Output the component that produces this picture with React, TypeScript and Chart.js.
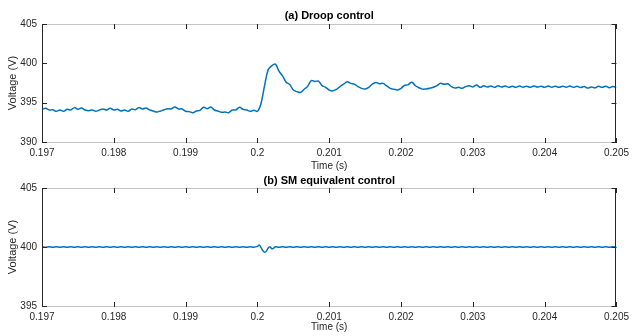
import React, { useEffect, useRef } from "react";
import { Chart, registerables } from "chart.js";

Chart.register(...registerables);

// ---- data ----
const T0 = 0.197;
const DT = 0.00005;

// (a) Droop control: voltage sampled every 50 us from 0.197 s to 0.205 s
const droopV = [
  394.15, 394.28, 394.07, 394.1, 393.9, 394.07, 393.9, 394.15, 394.07, 394.37,
  394.15, 394.32, 394.07, 393.98, 394.07, 393.9, 394.07, 394.2, 394.07, 394.28,
  394.07, 394.15, 393.94, 394.07, 393.9, 394.2, 394.1, 394.37, 394.2, 394.32,
  394.07, 393.94, 393.81, 393.94, 394.1, 394.24, 394.2, 394.45, 394.2, 394.2,
  393.9, 393.86, 393.73, 393.94, 394.03, 394.41, 394.24, 394.45, 394.07, 393.94,
  393.77, 393.81, 393.73, 394.07, 394.07, 394.41, 394.15, 394.07, 393.9, 394.03,
  393.9, 394.9, 397.2, 399.2, 399.7, 399.9, 399.0, 398.4, 397.6, 397.3,
  396.6, 396.4, 396.3, 396.7, 397.1, 397.8, 397.7, 397.75, 397.16, 396.95,
  396.6, 396.5, 396.7, 397.05, 397.35, 397.65, 397.45, 397.35, 397.04, 396.82,
  396.75, 396.95, 397.35, 397.55, 397.4, 397.45, 397.12, 396.82, 396.7, 396.62,
  396.82, 397.21, 397.3, 397.6, 397.15, 396.9, 396.72, 396.74, 396.82, 396.95,
  397.16, 397.46, 397.33, 397.4, 397.05, 396.85, 396.95, 396.82, 397.04, 397.16,
  397.0, 397.25, 396.95, 397.15, 396.98, 397.12, 396.95, 397.15, 396.98, 397.12,
  396.95, 397.1, 396.95, 397.12, 396.96, 397.1, 396.95, 397.12, 396.98, 397.1,
  396.95, 397.12, 396.97, 397.1, 396.95, 397.1, 396.96, 397.12, 396.95, 397.08,
  396.92, 397.05, 396.85, 397.0, 396.88, 397.08, 396.95, 397.1, 396.9, 397.05,
  396.95,
];

// (b) SM equivalent control: same 50 us grid
const smV = [
  400.02, 399.98, 400.02, 399.98, 400.02, 399.98, 400.02, 399.98, 400.02, 399.98,
  400.02, 399.98, 400.02, 399.98, 400.02, 399.98, 400.02, 399.98, 400.02, 399.98,
  400.02, 399.98, 400.02, 399.98, 400.02, 399.98, 400.02, 399.98, 400.02, 399.98,
  400.02, 399.98, 400.02, 399.98, 400.02, 399.98, 400.02, 399.98, 400.02, 399.98,
  400.02, 399.98, 400.02, 399.98, 400.02, 399.98, 400.02, 399.98, 400.02, 399.98,
  400.02, 399.98, 400.02, 399.98, 400.02, 399.98, 400.02, 399.98, 400.02, 399.98,
  400.05, 399.95, 399.55, 399.92, 399.85, 400.02, 399.98, 400.02, 399.98, 400.02,
  399.98, 400.02, 399.98, 400.02, 399.98, 400.02, 399.98, 400.02, 399.98, 400.02,
  399.98, 400.02, 399.98, 400.02, 399.98, 400.02, 399.98, 400.02, 399.98, 400.02,
  399.98, 400.02, 399.98, 400.02, 399.98, 400.02, 399.98, 400.02, 399.98, 400.02,
  399.98, 400.02, 399.98, 400.02, 399.98, 400.02, 399.98, 400.02, 399.98, 400.02,
  399.98, 400.02, 399.98, 400.02, 399.98, 400.02, 399.98, 400.02, 399.98, 400.02,
  399.98, 400.02, 399.98, 400.02, 399.98, 400.02, 399.98, 400.02, 399.98, 400.02,
  399.98, 400.02, 399.98, 400.02, 399.98, 400.02, 399.98, 400.02, 399.98, 400.02,
  399.98, 400.02, 399.98, 400.02, 399.98, 400.02, 399.98, 400.02, 399.98, 400.02,
  399.98, 400.02, 399.98, 400.02, 399.98, 400.02, 399.98, 400.02, 399.98, 400.02,
  399.98,
];
// extra samples around the transient of (b)
const smExtraT = [0.200025, 0.200075, 0.200125, 0.200175, 0.200225];
const smExtraV = [400.17, 399.7, 399.65, 400.03, 399.9];

const titles = ["(a) Droop control", "(b) SM equivalent control"];
const xLabel = "Time (s)";
const yLabel = "Voltage (V)";
const xRange = [0.197, 0.205];
const xStep = 0.001;
const yRangeA = [390, 405];
const yRangeB = [395, 405];
const yStep = 5;

const FONT = "'Liberation Sans', Arial, Helvetica, sans-serif";
const BLUE = "#0072BD";
const DARK = "#262626";

function gridPoints(vals: number[]) {
  return vals.map((v, i) => ({ x: T0 + i * DT, y: v }));
}

const framePlugin = {
  id: "matlabFrame",
  afterDraw(chart: any, _args: any, o: any) {
    const { ctx, chartArea: a, scales } = chart;
    ctx.save();
    ctx.lineWidth = 1;
    ctx.strokeStyle = "#c4c4c4";
    ctx.beginPath();
    ctx.moveTo(a.left, Math.round(a.top) + 0.5);
    ctx.lineTo(a.right, Math.round(a.top) + 0.5);
    ctx.moveTo(a.left, Math.round(a.bottom) + 0.5);
    ctx.lineTo(a.right, Math.round(a.bottom) + 0.5);
    ctx.stroke();
    ctx.strokeStyle = DARK;
    ctx.beginPath();
    const lx = Math.round(a.left) + 0.5;
    const rx = Math.round(a.right) - 0.5;
    ctx.moveTo(lx, a.top);
    ctx.lineTo(lx, a.bottom + 1);
    ctx.moveTo(rx, a.top);
    ctx.lineTo(rx, a.bottom + 1);
    scales.x.ticks.forEach((t: any) => {
      const px = Math.round(scales.x.getPixelForValue(t.value)) + 0.5;
      ctx.moveTo(px, a.bottom + 1);
      ctx.lineTo(px, a.bottom - 4);
      ctx.moveTo(px, a.top);
      ctx.lineTo(px, a.top + 5);
    });
    scales.y.ticks.forEach((t: any) => {
      const py = Math.round(scales.y.getPixelForValue(t.value)) + 0.5;
      ctx.moveTo(a.left, py);
      ctx.lineTo(a.left + 5, py);
      ctx.moveTo(a.right, py);
      ctx.lineTo(a.right - 5, py);
    });
    ctx.stroke();
    const cx = (a.left + a.right) / 2;
    ctx.textAlign = "center";
    ctx.textBaseline = "middle";
    ctx.fillStyle = "#000";
    ctx.font = `bold 11px ${FONT}`;
    ctx.fillText(o.title, cx, a.top - o.titleGap);
    ctx.fillStyle = DARK;
    ctx.font = `10px ${FONT}`;
    ctx.fillText(xLabel, cx, a.bottom + o.xTitleGap);
    ctx.translate(12.8, (a.top + a.bottom) / 2);
    ctx.rotate(-Math.PI / 2);
    ctx.font = `11px ${FONT}`;
    ctx.fillText(yLabel, 0, 0);
    ctx.restore();
  },
};

function makeConfig(
  points: { x: number; y: number }[],
  yr: number[],
  padTop: number,
  tickPad: number,
  title: string,
  titleGap: number,
  xTitleGap: number
): any {
  return {
    type: "line",
    data: {
      datasets: [
        {
          data: points,
          borderColor: BLUE,
          borderWidth: 1.5,
          pointRadius: 0,
          tension: 0.35,
          fill: false,
        },
      ],
    },
    options: {
      responsive: false,
      animation: false,
      layout: { padding: { left: 0, right: 13, top: padTop, bottom: 0 } },
      plugins: {
        legend: { display: false },
        tooltip: { enabled: false },
        title: { display: false },
        matlabFrame: { title, titleGap, xTitleGap },
      },
      scales: {
        x: {
          type: "linear",
          min: xRange[0],
          max: xRange[1],
          grid: { display: false, drawTicks: false },
          border: { display: false },
          afterFit: (s: any) => {
            s.height = 30;
          },
          ticks: {
            stepSize: xStep,
            autoSkip: false,
            maxRotation: 0,
            padding: tickPad,
            color: DARK,
            font: { family: FONT, size: 10 },
            callback: (v: any) => String(Number(Number(v).toFixed(3))),
          },
        },
        y: {
          min: yr[0],
          max: yr[1],
          grid: { display: false, drawTicks: false },
          border: { display: false },
          afterFit: (s: any) => {
            s.width = 42;
          },
          ticks: {
            stepSize: yStep,
            padding: 5,
            color: DARK,
            font: { family: FONT, size: 10 },
          },
        },
      },
    },
    plugins: [framePlugin],
  };
}

export default function App() {
  const ref1 = useRef<HTMLCanvasElement>(null);
  const ref2 = useRef<HTMLCanvasElement>(null);

  useEffect(() => {
    const ptsA = gridPoints(droopV);
    const ptsB = gridPoints(smV)
      .concat(smExtraT.map((t, i) => ({ x: t, y: smExtraV[i] })))
      .sort((p, q) => p.x - q.x);
    const c1 = new Chart(ref1.current!, makeConfig(ptsA, yRangeA, 24, 5, titles[0], 8, 24));
    const c2 = new Chart(ref2.current!, makeConfig(ptsB, yRangeB, 16, 5, titles[1], 7, 21.5));
    return () => {
      c1.destroy();
      c2.destroy();
    };
  }, []);

  return (
    <div style={{ position: "absolute", left: 0, top: 0, width: 634, height: 336, background: "#fff" }}>
      <canvas ref={ref1} width={634} height={172} style={{ position: "absolute", left: 0, top: 0 }} />
      <canvas ref={ref2} width={634} height={164} style={{ position: "absolute", left: 0, top: 172 }} />
    </div>
  );
}
